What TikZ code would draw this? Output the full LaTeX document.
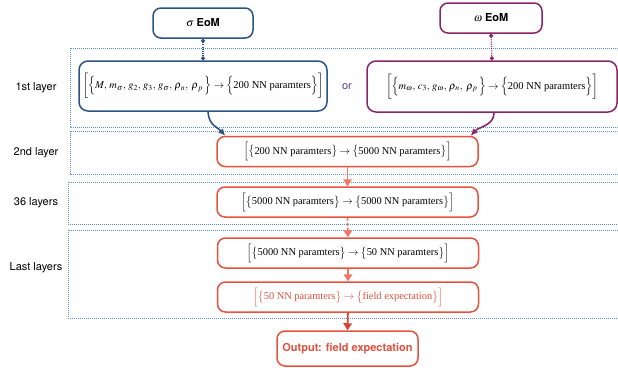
\documentclass[tikz,border=0pt]{standalone}
\usepackage{mathptmx}
\usepackage[no-math]{fontspec}
\setmainfont{Liberation Serif}
\setsansfont{TeX Gyre Heros}
\usetikzlibrary{arrows.meta}
\definecolor{dblue}{HTML}{2B5386}
\definecolor{lblue}{HTML}{5B93D6}
\definecolor{dpurp}{HTML}{8B2565}
\definecolor{orcol}{HTML}{5A3D8E}
\definecolor{rborder}{HTML}{E5533D}
\definecolor{rtext}{HTML}{E0503C}
\definecolor{rarrow}{HTML}{F07563}
\definecolor{rdark}{HTML}{D9402E}
\begin{document}
\begin{tikzpicture}[x=1pt,y=-1pt,
  layerbox/.style={lblue,line width=1pt,dash pattern=on 1pt off 1pt},
  layerlabel/.style={font=\sffamily\fontsize{11}{13}\selectfont,text=black},
  eombox/.style={draw,rounded corners=8pt,line width=1.5pt,fill=white,
     font=\fontsize{11}{13}\selectfont},
  firstbox/.style={draw,rounded corners=9pt,line width=1.5pt,fill=white,
     font=\fontsize{10.5}{12.5}\selectfont},
  redbox/.style={draw=rborder,rounded corners=8pt,line width=1.5pt,fill=white,
     minimum width=261pt,minimum height=30pt,inner sep=0pt,
     font=\fontsize{10.4}{12}\selectfont},
  dotconn/.style={line width=1.2pt,dash pattern=on 1pt off 1.2pt,
     {Circle[length=4pt]}-{Circle[length=4pt]}},
  redarrow/.style={line width=1.6pt,-{Triangle[length=7pt,width=8.5pt]}}
]
\useasboundingbox (0,0) rectangle (618,367);

% layer boxes (open on the right)
\draw[layerbox] (618,48) -- (70,48) -- (70,127) -- (618,127);
\draw[layerbox] (618,131) -- (70,131) -- (70,174) -- (618,174);
\draw[layerbox] (618,182) -- (68,182) -- (68,224) -- (618,224);
\draw[layerbox] (618,230) -- (68,230) -- (68,318) -- (618,318);

% layer labels
\node[layerlabel] (lab1) at (36,88) {1st layer};
\node[layerlabel] (lab2) at (36,153) {2nd layer};
\node[layerlabel] (lab3) at (36,203) {36 layers};
\node[layerlabel] (lab4) at (36,268) {Last layers};

% EoM boxes
\node[eombox,draw=dblue,minimum width=100pt,minimum height=30pt] (sig) at (203,23)
  {$\sigma$ \textsf{\bfseries EoM}};
\node[eombox,draw=dpurp,minimum width=102pt,minimum height=30pt] (omg) at (491,18)
  {$\omega$ \textsf{\bfseries EoM}};

% first layer nodes
\node[firstbox,draw=dblue,minimum width=248pt,minimum height=50pt,inner sep=0pt] (blue) at (203,86)
  {$\bigg[\Big\{M,\,m_\sigma,\,g_2,\,g_3,\,g_\sigma,\,\rho_{\kern0.6pt n},\;\rho_{\kern0.6pt p}\,\Big\}\to\Big\{\mbox{200 NN paramters}\Big\}\bigg]$};
\node[firstbox,draw=dpurp,minimum width=250pt,minimum height=51pt,inner sep=0pt] (purp) at (492,86.5)
  {$\bigg[\Big\{m_\omega,\,c_3,\,g_\omega,\,\rho_{\kern0.6pt n},\;\rho_{\kern0.6pt p}\,\Big\}\to\Big\{\mbox{200 NN paramters}\Big\}\bigg]$};
\node[font=\sffamily\fontsize{11}{13}\selectfont,text=orcol] (or) at (347,87) {or};

% red nodes
\node[redbox] (l2) at (347.5,151.5)
  {$\Big[\big\{\mbox{200 NN paramters}\big\}\to\big\{\mbox{5000 NN paramters}\big\}\Big]$};
\node[redbox] (l36) at (347.5,202)
  {$\Big[\big\{\mbox{5000 NN paramters}\big\}\to\big\{\mbox{5000 NN paramters}\big\}\Big]$};
\node[redbox] (la) at (348,253)
  {$\Big[\big\{\mbox{5000 NN paramters}\big\}\to\big\{\mbox{50 NN paramters}\big\}\Big]$};
\node[redbox,text=rtext] (lb) at (348,297)
  {$\Big[\big\{\mbox{50 NN paramters}\big\}\to\big\{\mbox{field expectation}\big\}\Big]$};
\node[draw=rborder,rounded corners=8pt,line width=1.5pt,fill=white,
  minimum width=141pt,minimum height=35pt,inner sep=0pt,text=rtext,
  font=\sffamily\bfseries\fontsize{11}{13}\selectfont] (out) at (347.5,348.5)
  {Output: field expectation};

% connectors
\draw[dotconn,dblue] (sig.south) -- (blue.north);
\draw[dotconn,dpurp] (omg.south) -- (purp.north);

\draw[dblue,line width=1.6pt,-{Latex[length=7pt,width=6.5pt]}]
  ([xshift=5pt]blue.south) .. controls +(1,14) and +(-8,-9) .. ([xshift=9pt]l2.north west);
\draw[dpurp,line width=1.6pt,-{Latex[length=7pt,width=6.5pt]}]
  ([xshift=2pt]purp.south) .. controls +(0,13) and +(8,-9) .. ([xshift=-8pt]l2.north east);

\draw[redarrow,rarrow] (l2.south) -- (l36.north);
\draw[redarrow,rarrow,dash pattern=on 3pt off 2pt] (l36.south) -- (la.north);
\draw[redarrow,rarrow] (la.south) -- (lb.north);
\draw[redarrow,rdark] (lb.south) -- (out.north);
\end{tikzpicture}
\end{document}
